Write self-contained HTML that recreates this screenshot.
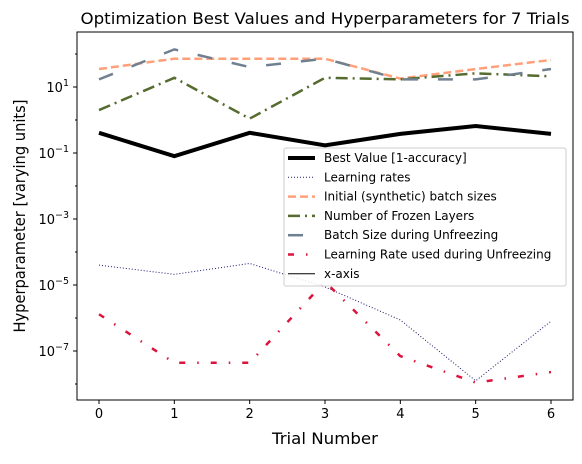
<!DOCTYPE html>
<html><head><meta charset="utf-8"><style>
body{margin:0;background:#fff}
svg text{font-family:"DejaVu Sans","Liberation Sans",sans-serif;fill:#000}
</style></head><body>
<svg id="chart" width="582" height="459" xmlns="http://www.w3.org/2000/svg">
<rect width="582" height="459" fill="#fff"/>
<g id="plot"></g>
<text x="325" y="24" font-size="16" text-anchor="middle" textLength="489" lengthAdjust="spacingAndGlyphs">Optimization Best Values and Hyperparameters for 7 Trials</text>
<text x="325" y="444" font-size="16" text-anchor="middle" textLength="106" lengthAdjust="spacingAndGlyphs">Trial Number</text>
<text x="0" y="0" font-size="16" text-anchor="middle" textLength="233" lengthAdjust="spacingAndGlyphs" transform="translate(25,216) rotate(-90)">Hyperparameter [varying units]</text>
</svg>
<script>
const trials=[0,1,2,3,4,5,6];
const bestValue=[0.41,0.08,0.41,0.17,0.38,0.66,0.38];
const learningRates=[4e-5,2.1e-5,4.5e-5,8.7e-6,8.7e-7,1.25e-8,8e-7];
const initialBatch=[35,72,72,72,18,35,66];
const frozenLayers=[2,19,1.1,19,17,26,21];
const batchUnfreeze=[17,138,40,72,17,17,35];
const lrUnfreeze=[1.3e-6,4.4e-8,4.4e-8,1.26e-5,7e-8,1.1e-8,2.3e-8];
const xTicks=[0,1,2,3,4,5,6];
const yTicks=[1,-1,-3,-5,-7];

const L=77,R=573,T=32,B=400;
const xs=v=>99+(v/6)*(551-99);
const ys=v=>87-(Math.log10(v)-1)*33;
const NS='http://www.w3.org/2000/svg';
const g=document.getElementById('plot');
function mk(t,a){const e=document.createElementNS(NS,t);for(const k in a)e.setAttribute(k,a[k]);return e;}

const series=[
 {name:'best-value-line',data:bestValue,color:'#000',w:4,dash:''},
 {name:'learning-rates-line',data:learningRates,color:'#191970',w:1,dash:'1,2'},
 {name:'initial-batch-sizes-line',data:initialBatch,color:'#ffa07a',w:2.5,dash:'8,4'},
 {name:'frozen-layers-line',data:frozenLayers,color:'#556b2f',w:2.5,dash:'12,5,2,5'},
 {name:'batch-size-unfreezing-line',data:batchUnfreeze,color:'#708090',w:2.5,dash:'15,20'},
 {name:'lr-unfreezing-line',data:lrUnfreeze,color:'#dc143c',w:2.5,dash:'6,12,1.5,12'}
];
const clip=mk('clipPath',{id:'pc'});clip.appendChild(mk('rect',{x:L,y:T,width:R-L,height:B-T}));g.appendChild(clip);
series.forEach(s=>{
 const p=mk('polyline',{points:trials.map((t,i)=>xs(t)+','+ys(s.data[i])).join(' '),fill:'none',stroke:s.color,'stroke-width':s.w,'stroke-dasharray':s.dash,'clip-path':'url(#pc)'});
 
 
 g.appendChild(p);
});
const frame=mk('rect',{x:L,y:T,width:R-L,height:B-T,fill:'none',stroke:'#000','stroke-width':1});


g.appendChild(frame);
xTicks.forEach(t=>{
 const l=mk('line',{x1:xs(t),x2:xs(t),y1:B,y2:B+4,stroke:'#000'});
 
 
 g.appendChild(l);
 const tx=mk('text',{x:xs(t),y:B+18,'font-size':13,'text-anchor':'middle'});tx.textContent=t;
 
 
 g.appendChild(tx);
});
for(let e=-8;e<=2;e++){
 const y=ys(Math.pow(10,e));if(y<T||y>B)continue;
 const major=yTicks.includes(e);
 const l=mk('line',{x1:L-(major?4:2),x2:L,y1:y,y2:y,stroke:'#000'});
 
 
 g.appendChild(l);
}
yTicks.forEach(e=>{
 const y=ys(Math.pow(10,e));
 const tx=mk('text',{x:L-8,y:y+5,'font-size':13,'text-anchor':'end'});
 tx.innerHTML='10<tspan dy="-6" font-size="9.5">'+(e<0?'\u2212'+(-e):e)+'</tspan>';
 
 
 g.appendChild(tx);
});
// legend
const lg=mk('g',{});


g.appendChild(lg);
lg.appendChild(mk('rect',{x:284,y:148,width:282,height:138,rx:2,fill:'#fff','fill-opacity':0.85,stroke:'#ccc'}));
const labels=['Best Value [1-accuracy]','Learning rates','Initial (synthetic) batch sizes','Number of Frozen Layers','Batch Size during Unfreezing','Learning Rate used during Unfreezing','x-axis'];
const handles=series.concat([{color:'#000',w:1,dash:''}]);
labels.forEach((lab,i)=>{
 const y=158+i*19.3;const h=handles[i];
 const ln=mk('line',{x1:288,x2:315,y1:y,y2:y,stroke:h.color,'stroke-width':h.w,'stroke-dasharray':h.dash});
 
 
 lg.appendChild(ln);
 const tx=mk('text',{x:324,y:y+4,'font-size':12});tx.textContent=lab;
 
 
 lg.appendChild(tx);
});
</script>
</body></html>
